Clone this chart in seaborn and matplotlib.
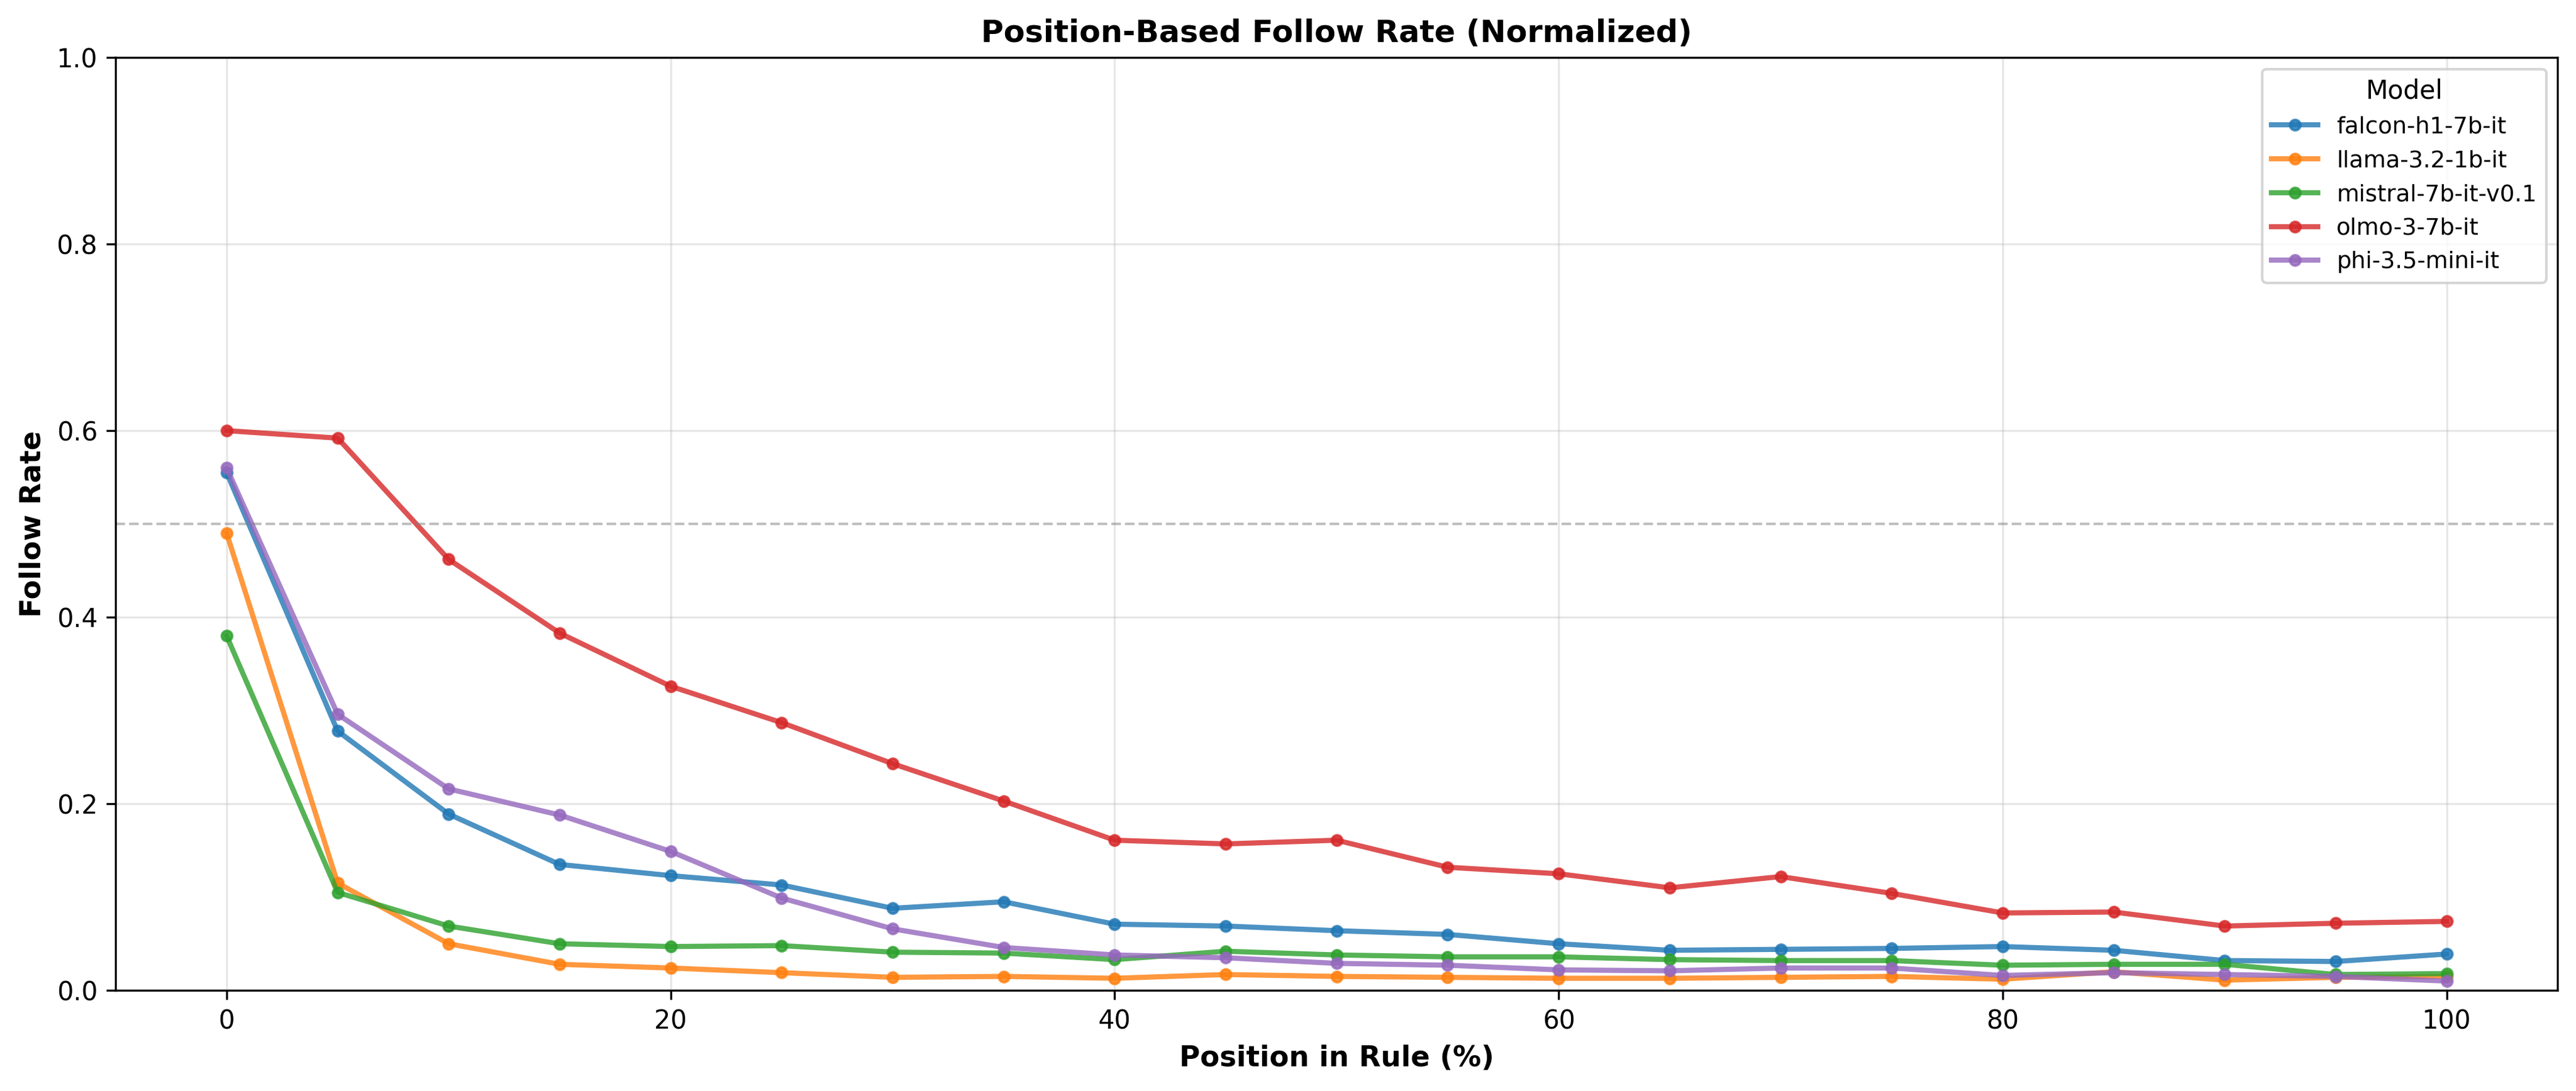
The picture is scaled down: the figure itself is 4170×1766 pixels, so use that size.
"""Position-based follow rate per model (normalized)."""

import matplotlib

matplotlib.use("Agg")
import matplotlib.pyplot as plt
import pandas as pd
import seaborn as sns

positions = [0, 5, 10, 15, 20, 25, 30, 35, 40, 45, 50, 55, 60, 65, 70, 75, 80, 85, 90, 95, 100]

models = [
    "falcon-h1-7b-it",
    "llama-3.2-1b-it",
    "mistral-7b-it-v0.1",
    "olmo-3-7b-it",
    "phi-3.5-mini-it",
]

falcon = [0.555, 0.278, 0.189, 0.135, 0.123, 0.113, 0.088, 0.095, 0.071, 0.069, 0.064,
          0.060, 0.050, 0.043, 0.044, 0.045, 0.047, 0.043, 0.032, 0.031, 0.039]
llama = [0.490, 0.115, 0.050, 0.028, 0.024, 0.019, 0.014, 0.015, 0.013, 0.017, 0.015,
         0.014, 0.013, 0.013, 0.014, 0.015, 0.012, 0.020, 0.011, 0.014, 0.015]
mistral = [0.380, 0.105, 0.069, 0.050, 0.047, 0.048, 0.041, 0.040, 0.033, 0.042, 0.038,
           0.036, 0.036, 0.033, 0.032, 0.032, 0.027, 0.028, 0.028, 0.017, 0.018]
olmo = [0.600, 0.592, 0.462, 0.383, 0.326, 0.287, 0.243, 0.203, 0.161, 0.157, 0.161,
        0.132, 0.125, 0.110, 0.122, 0.104, 0.083, 0.084, 0.069, 0.072, 0.074]
phi = [0.560, 0.296, 0.216, 0.188, 0.149, 0.099, 0.066, 0.046, 0.038, 0.035, 0.029,
       0.027, 0.022, 0.021, 0.024, 0.024, 0.016, 0.019, 0.017, 0.015, 0.010]


def build_frame() -> pd.DataFrame:
    rows = []
    for name, values in zip(models, [falcon, llama, mistral, olmo, phi]):
        for pos, val in zip(positions, values):
            rows.append({"position": pos, "follow_rate": val, "model": name})
    return pd.DataFrame(rows)


def main() -> None:
    data = build_frame()
    fig, ax = plt.subplots(figsize=(14, 6))
    sns.lineplot(
        data=data,
        x="position",
        y="follow_rate",
        hue="model",
        hue_order=models,
        palette="tab10",
        marker="o",
        markersize=4,
        markeredgewidth=1,
        linewidth=2,
        alpha=0.8,
        ax=ax,
    )
    # plain matplotlib-looking markers: edge in the line colour
    for line in ax.lines:
        line.set_markeredgecolor(line.get_color())
    handles, labels = ax.get_legend_handles_labels()
    for h in handles:
        h.set_markeredgecolor(h.get_color())
        h.set_markeredgewidth(1)
        h.set_markersize(4)
        h.set_linewidth(2)
        h.set_alpha(0.8)

    ax.axhline(0.5, color="gray", linestyle="--", alpha=0.5, linewidth=1)
    ax.set_ylim(0, 1)
    ax.set_xlabel("Position in Rule (%)", fontsize=11, fontweight="bold")
    ax.set_ylabel("Follow Rate", fontsize=11, fontweight="bold")
    ax.set_title("Position-Based Follow Rate (Normalized)", fontsize=12, fontweight="bold")
    ax.grid(True, alpha=0.3)
    ax.legend(handles, labels, title="Model", loc="upper right", fontsize=9, title_fontsize=10)
    fig.tight_layout()
    fig.savefig("out.png", dpi=300, bbox_inches="tight")
    plt.close(fig)


if __name__ == "__main__":
    main()
